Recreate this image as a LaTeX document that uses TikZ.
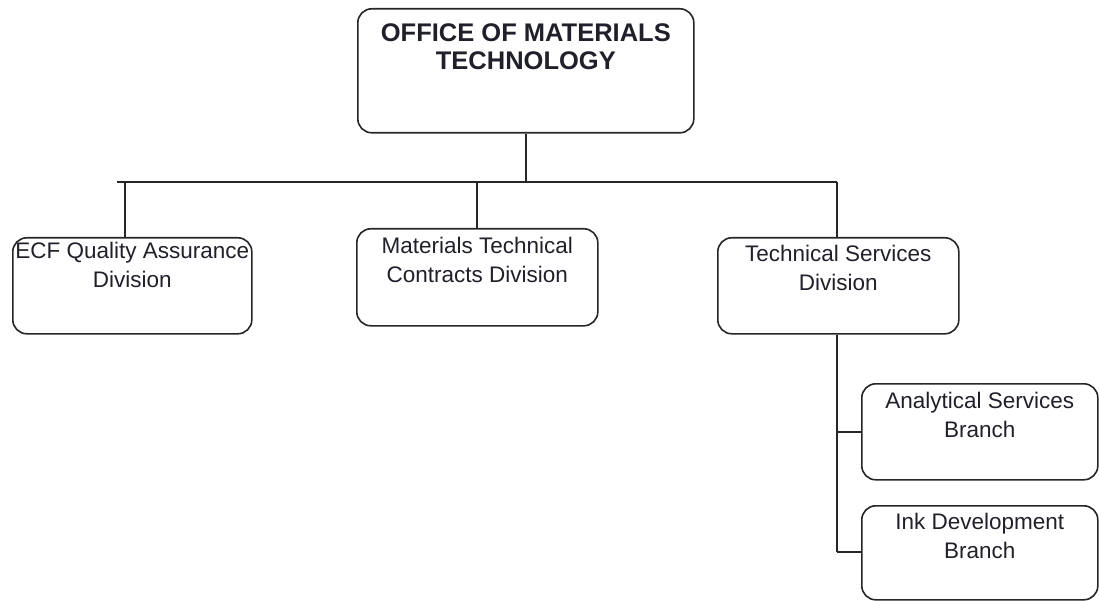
\documentclass[tikz,border=0pt]{standalone}
\usepackage{fontspec}
\setmainfont{Liberation Sans}
\definecolor{inkdark}{HTML}{20202A}
\begin{document}
\begin{tikzpicture}[x=1pt,y=-1pt,
  line/.style={draw=black!85, line width=1.6pt},
  unit/.style={line, rounded corners=14pt, anchor=north west, inner sep=0pt},
  lbl/.style={anchor=north, align=center, inner sep=0pt, text=inkdark,
    font=\fontsize{22.5}{28.5}\selectfont},
  ttl/.style={lbl, font=\fontsize{25.5}{28.5}\selectfont\bfseries}]
\useasboundingbox (0,0) rectangle (1099,601);

% boxes
\node[unit, minimum width=336pt, minimum height=124pt] (top)  at (357,8)   {};
\node[unit, minimum width=239pt, minimum height=96pt]  (ecf)  at (12,237)  {};
\node[unit, minimum width=241pt, minimum height=97pt]  (mat)  at (356,228) {};
\node[unit, minimum width=241pt, minimum height=96pt]  (tech) at (717,237) {};
\node[unit, minimum width=236pt, minimum height=96pt]  (ana)  at (861,383) {};
\node[unit, minimum width=236pt, minimum height=94pt]  (ink)  at (861,505) {};

% labels
\node[ttl] (top-t)  at ([yshift=-15pt]top.north)  {OFFICE OF MATERIALS\\TECHNOLOGY};
\node[lbl] (ecf-t)  at ([yshift=-5pt]ecf.north)   {ECF Quality Assurance\\Division};
\node[lbl] (mat-t)  at ([yshift=-9pt]mat.north)   {Materials Technical\\Contracts Division};
\node[lbl] (tech-t) at ([yshift=-8pt]tech.north)  {Technical Services\\Division};
\node[lbl] (ana-t)  at ([yshift=-9pt]ana.north)   {Analytical Services\\Branch};
\node[lbl] (ink-t)  at ([yshift=-8pt]ink.north)   {Ink Development\\Branch};

% connectors
\coordinate (busL) at (117,182);
\coordinate (busR) at (837,182);
\coordinate (ecfdrop) at (125,182);
\coordinate (matdrop) at (477,182);
\coordinate (branchEnd) at (837,552);

\draw[line] (top.south) -- (top.south |- busL);
\draw[line] (busL) -- (busR);
\draw[line] (ecfdrop) -- (ecfdrop |- ecf.north);
\draw[line] (matdrop) -- (matdrop |- mat.north);
\draw[line] (busR) -- (busR |- tech.north);
\draw[line] (tech.south -| busR) -- (branchEnd);
\draw[line] (busR |- ana.west) -- (ana.west);
\draw[line] (branchEnd) -- (ink.west |- branchEnd);
\end{tikzpicture}
\end{document}
